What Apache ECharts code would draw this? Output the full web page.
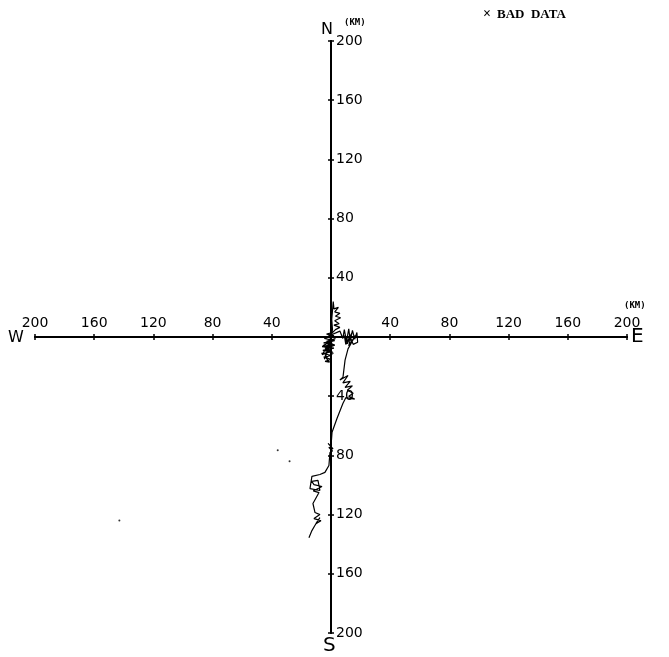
<!DOCTYPE html>
<html>
<head>
<meta charset="utf-8">
<script src="https://cdn.jsdelivr.net/npm/echarts@6/dist/echarts.min.js"></script>
<style>
html,body{margin:0;padding:0;background:#fff;}
#chart{width:669px;height:657px;}
</style>
</head>
<body>
<div id="chart"></div>
<script>
// Axis range / tick step (km)
var axisMin = -200, axisMax = 200, axisStep = 40;
// Progressive vector track, east (km) and north (km) displacement
var trackEast = [0, 1.0, 0.5, 1.2, 1.5, 2.0, 5.0, 2.5, 6.0, 3.0, 6.5, 2.5, 5.5, 2.0, 6.0, 3.0, 1.0,
  -3.0, 2.0, -4.5, 2.5, -5.0, 1.5, -6.0, 2.0, -5.5, 1.0, -6.5, 0.5, -5.0, 0.0, -4.0, -1.0, -3.5, 1.5, -4.0, 2.5, -3.0, 3.0,
  -5.5, 0.0, -6.0, -1.0, -4.5, 1.0, -2.0,
  6.0, 8.0, 9.0, 10.5, 12.0, 13.0, 14.5, 16.0, 17.5, 18.0, 15.0, 13.0, 11.0, 9.0, 10.0, 14.0, 12.0, 16.5, 11.5,
  9.5, 8.1,
  6.0, 11.5, 8.0, 13.0, 9.5, 14.5, 11.0, 15.0, 12.0, 16.0, 10.0, 8.1,
  4.1, 0.7, 0.0,
  -2.0, 1.4, -1.5, 1.0, -0.7,
  -1.4, -4.1, -7.5,
  -12.9, -14.2, -7.5, -8.8, -13.0, -11.5, -6.1, -12.0, -8.1,
  -12.2, -10.8,
  -7.5, -11.5, -6.8, -10.2, -7.5, -11.0,
  -12.9, -14.9];
var trackNorth = [0, 5.0, 12.0, 20.0, 24.0, 19.0, 20.0, 17.0, 16.0, 14.0, 13.0, 11.0, 9.0, 8.0, 6.5, 5.0, 3.0,
  2.0, 1.0, -1.0, -2.5, -4.0, -5.0, -6.5, -7.5, -9.0, -10.0, -11.0, -12.5, -13.5, -15.0, -16.5, -17.0, -14.0, -11.0, -8.0, -5.5, -3.0, -1.0,
  -6.0, -9.5, -12.0, -3.5, -15.0, -2.0, 0.5,
  4.0, -1.0, 5.0, -3.0, 5.5, -2.5, 4.5, -1.5, 3.0, -3.5, -5.0, 0.0, -4.5, 1.0, -5.0, 2.5, -6.0, 1.0, -8.0,
  -15.6, -27.1,
  -29.0, -26.0, -31.0, -30.0, -34.0, -33.0, -36.0, -38.0, -40.0, -42.0, -41.0, -44.7,
  -54.9, -64.4, -73.9,
  -71.9, -75.6, -74.5, -77.0, -78.0,
  -86.8, -91.5, -92.9,
  -94.2, -102.4, -103.7, -96.9, -97.5, -99.7, -101.0, -104.0, -105.1,
  -112.5, -118.6,
  -120.0, -122.7, -124.1, -126.1, -122.0, -127.5,
  -130.8, -135.6];
// isolated specks (km)
var speckEast = [-36.0, -28.0, -143.0];
var speckNorth = [-76.5, -84.0, -124.0];
var dirLabels = ['N', 'S', 'E', 'W'];
var unitLabel = '(KM)';
var legendLabel = 'BAD  DATA';

var track = trackEast.map(function (e, i) { return [e, trackNorth[i]]; });
var specks = speckEast.map(function (e, i) { return [e, speckNorth[i]]; });

function fmt(v) { return v === 0 ? '' : String(Math.abs(v)); }
var lblFont = { color: '#000', fontFamily: 'DejaVu Sans', fontSize: 14 };
var range = { min: axisMin, max: axisMax, interval: axisStep, splitLine: { show: false } };
var lineStyle = { color: '#000', width: 2 };
var tickStyle = { show: true, length: 3, lineStyle: { color: '#000', width: 1.5 } };
function ax(extra) { return Object.assign({ type: 'value' }, range, extra); }

var chart = echarts.init(document.getElementById('chart'), null, { renderer: 'canvas' });
chart.setOption({
  backgroundColor: '#fff',
  animation: false,
  grid: [
    { left: 35, top: 41, width: 592, height: 592 },   // data plane
    { left: 35, top: 337, width: 592, height: 0 },    // W-E axis line
    { left: 331, top: 41, width: 0, height: 592 }     // N-S axis line
  ],
  xAxis: [
    ax({ gridIndex: 0, show: false }),
    ax({ gridIndex: 1, position: 'top', axisLine: { show: true, onZero: false, lineStyle: lineStyle }, axisTick: tickStyle,
      axisLabel: Object.assign({ margin: 7, formatter: fmt, showMinLabel: true, showMaxLabel: true }, lblFont) }),
    ax({ gridIndex: 1, position: 'bottom', axisLine: { show: true, onZero: false, lineStyle: lineStyle }, axisTick: tickStyle,
      axisLabel: { show: false } }),
    ax({ gridIndex: 2, show: false })
  ],
  yAxis: [
    ax({ gridIndex: 0, show: false }),
    ax({ gridIndex: 1, show: false }),
    ax({ gridIndex: 2, position: 'right', axisLine: { show: true, onZero: false, lineStyle: lineStyle }, axisTick: tickStyle,
      axisLabel: Object.assign({ margin: 5, formatter: fmt, showMinLabel: true, showMaxLabel: true }, lblFont) }),
    ax({ gridIndex: 2, position: 'left', axisLine: { show: true, onZero: false, lineStyle: lineStyle }, axisTick: tickStyle,
      axisLabel: { show: false } })
  ],
  series: [{
    type: 'line',
    xAxisIndex: 0, yAxisIndex: 0,
    data: track,
    showSymbol: false,
    symbol: 'none',
    lineStyle: { color: '#000', width: 1.2 },
    z: 5
  }, {
    type: 'scatter',
    xAxisIndex: 0, yAxisIndex: 0,
    data: specks,
    symbol: 'circle',
    symbolSize: 2,
    itemStyle: { color: '#000' }
  }],
  graphic: [
    { type: 'text', left: 321, top: 22, style: { text: dirLabels[0], font: '16px "DejaVu Sans"', fill: '#000' } },
    { type: 'text', left: 344, top: 18, style: { text: unitLabel, font: 'bold 9px "DejaVu Sans Mono"', fill: '#000' } },
    { type: 'text', left: 323, top: 636, style: { text: dirLabels[1], font: '20px "DejaVu Sans"', fill: '#000' } },
    { type: 'text', left: 631, top: 327, style: { text: dirLabels[2], font: '20px "DejaVu Sans"', fill: '#000' } },
    { type: 'text', left: 624, top: 301, style: { text: unitLabel, font: 'bold 9px "DejaVu Sans Mono"', fill: '#000' } },
    { type: 'text', left: 8, top: 330, style: { text: dirLabels[3], font: '16px "DejaVu Sans"', fill: '#000' } },
    { type: 'text', left: 483, top: 7, style: { text: '\u00d7', font: 'bold 14px "Liberation Serif"', fill: '#000' } },
    { type: 'text', left: 497, top: 8, style: { text: legendLabel, font: 'bold 13px "Liberation Serif"', fill: '#000' } }
  ]
});
</script>
</body>
</html>
